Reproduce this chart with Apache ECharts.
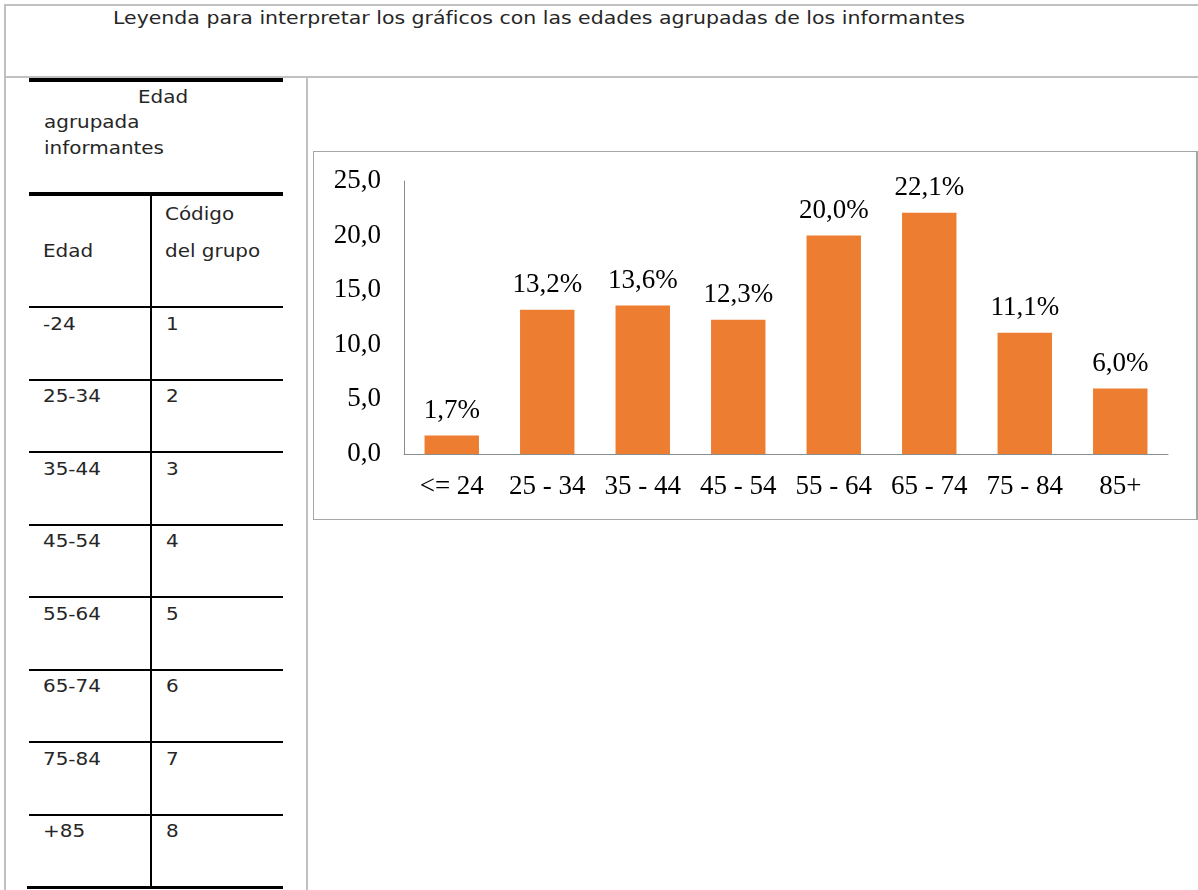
<!DOCTYPE html>
<html lang="es">
<head>
<meta charset="utf-8">
<title>Edades agrupadas de los informantes</title>
<script src="https://cdn.jsdelivr.net/npm/echarts@6/dist/echarts.min.js"></script>
<style>
  html, body { margin: 0; padding: 0; background: #fff; }
  #page { position: relative; width: 1198px; height: 890px; overflow: hidden; background: #fff; }
  .ln { position: absolute; }
  .grey { background: #c0c0c0; }
  .black { background: #000; }
  .t { position: absolute; white-space: nowrap; line-height: 1; color: #262626;
       font-family: "DejaVu Sans", Lato, sans-serif; transform-origin: 0 50%; }
  #grafico { position: absolute; left: 313px; top: 151px; width: 885px; height: 369px;
             box-sizing: border-box; border: 1px solid #a6a6a6; border-right-width: 2px; background: #fff; }
</style>
</head>
<body>
<div id="page">
  <div id="grafico"></div>
</div>
<script>
// Grupos de edad y porcentaje de informantes en cada uno
const categorias = ['<= 24', '25 - 34', '35 - 44', '45 - 54', '55 - 64', '65 - 74', '75 - 84', '85+'];
const porcentajes = [1.7, 13.2, 13.6, 12.3, 20.0, 22.1, 11.1, 6.0];

// Escala del eje vertical
const ejeMin = 0;
const ejeMax = 25;
const ejePaso = 5;

// Tabla de la leyenda: edad y código del grupo
const edades = ['-24', '25-34', '35-44', '45-54', '55-64', '65-74', '75-84', '+85'];
const codigos = ['1', '2', '3', '4', '5', '6', '7', '8'];

const titulo = 'Leyenda para interpretar los gráficos con las edades agrupadas de los informantes';
const cabeceraGrupo = ['Edad', 'agrupada', 'informantes'];
const cabeceraColumnas = ['Edad', 'Código', 'del grupo'];

const page = document.getElementById('page');

function linea(cls, x, y, w, h) {
  const d = document.createElement('div');
  d.className = 'ln ' + cls;
  d.style.left = x + 'px'; d.style.top = y + 'px';
  d.style.width = w + 'px'; d.style.height = h + 'px';
  page.appendChild(d);
  return d;
}

// Texto colocado por su línea base; escala horizontal opcional
function texto(str, x, base, size, escala) {
  const d = document.createElement('div');
  d.className = 't';
  d.textContent = str;
  d.style.fontSize = size + 'px';
  d.style.left = x + 'px';
  d.style.top = (base - 0.846 * size) + 'px';
  page.appendChild(d);
  if (escala) d.style.transform = 'scaleX(' + escala + ')';
  return d;
}
// Escala necesaria para que un texto ocupe un ancho dado
function escalaPara(str, size, ancho) {
  const d = texto(str, 0, 0, size);
  const w = d.getBoundingClientRect().width;
  page.removeChild(d);
  return ancho / w;
}

// Marco gris del documento
linea('grey', 4, 4, 1194, 2);
linea('grey', 4, 4, 2, 886);
linea('grey', 4, 76, 1194, 2);
linea('grey', 306, 77, 2, 813);

// Tabla de códigos
linea('black', 29, 78, 254, 4);
linea('black', 29, 192, 254, 4);
linea('black', 150, 194, 2, 694);
const filaY0 = 307, filaAlto = 72.5;
for (let i = 0; i < edades.length; i++) {
  linea('black', 29, filaY0 + i * filaAlto - 1, 254, 2);
}
linea('black', 27, filaY0 + edades.length * filaAlto - 1, 256, 3);

texto(titulo, 113, 24, 17, escalaPara(titulo, 17, 852));

// escala común de la tabla, ajustada con la palabra más larga
const tam = 18;
const esc = escalaPara(cabeceraGrupo[2], tam, 120);
const tt = (s, x, b) => texto(s, x, b, tam, esc);
tt(cabeceraGrupo[0], 138, 103);
tt(cabeceraGrupo[1], 44, 128);
tt(cabeceraGrupo[2], 44, 154);
tt(cabeceraColumnas[1], 165, 220);
tt(cabeceraColumnas[0], 43, 257);
tt(cabeceraColumnas[2], 165, 257);
for (let i = 0; i < edades.length; i++) {
  const base = filaY0 + i * filaAlto + 23;
  tt(edades[i], 43, base);
  tt(codigos[i], 166, base);
}

// Gráfico de barras
const fuente = '"Liberation Serif", "Times New Roman", serif';
const coma = v => Number(v).toFixed(1).replace('.', ',');
const chart = echarts.init(document.getElementById('grafico'), null, { renderer: 'canvas' });
chart.setOption({
  animation: false,
  backgroundColor: '#fff',
  grid: { left: 90, top: 29, width: 764, height: 273 },
  xAxis: {
    type: 'category',
    data: categorias,
    axisLine: { lineStyle: { color: '#8c8c8c', width: 1 } },
    axisTick: { show: false },
    axisLabel: { interval: 0, color: '#000', fontFamily: fuente, fontSize: 27, margin: 19 }
  },
  yAxis: {
    type: 'value',
    min: ejeMin, max: ejeMax, interval: ejePaso,
    axisLine: { show: true, lineStyle: { color: '#8c8c8c', width: 1 } },
    axisTick: { show: false },
    splitLine: { show: false },
    axisLabel: { color: '#000', fontFamily: fuente, fontSize: 27, margin: 23, formatter: coma }
  },
  series: [{
    type: 'bar',
    data: porcentajes,
    barWidth: '57%',
    itemStyle: { color: '#ED7D31' },
    label: {
      show: true, position: 'top', distance: 11,
      color: '#000', fontFamily: fuente, fontSize: 27,
      formatter: p => coma(p.value) + '%'
    }
  }]
});
</script>
</body>
</html>
